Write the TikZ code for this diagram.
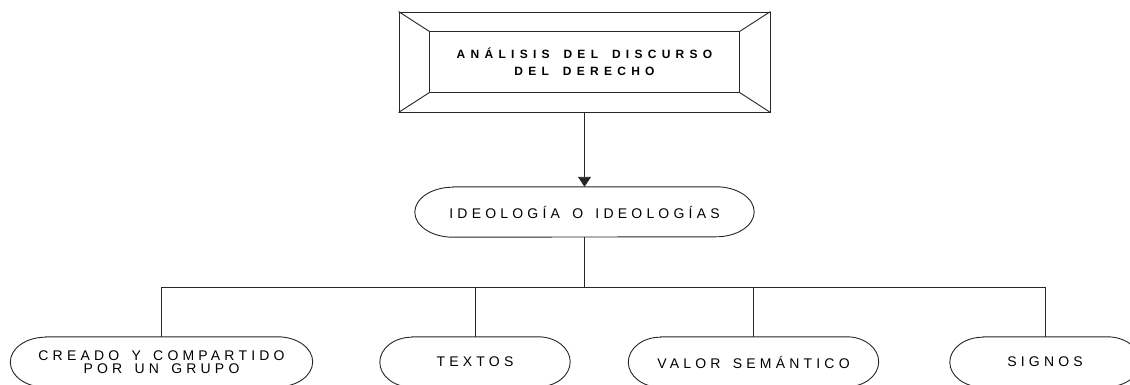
\documentclass[tikz,border=0pt]{standalone}
\usepackage{fontspec}
\setmainfont{Liberation Sans}
\newfontfamily\lsreg[LetterSpace=30]{Liberation Sans}
\newfontfamily\lsbold[LetterSpace=44]{Liberation Sans}
\usetikzlibrary{arrows.meta,calc}
\newcommand\wsr{\hspace{0.30em} }
\newcommand\wsb{\hspace{0.44em} }
\tikzset{
  line/.style={line width=0.9pt, draw=black!85},
  termnode/.style={minimum height=50pt, inner sep=0pt, align=center,
    font=\lsreg\fontsize{14}{13.5}\selectfont},
  titlenode/.style={minimum width=371pt, minimum height=100pt, inner sep=0pt,
    align=center, font=\lsbold\bfseries\fontsize{12}{17}\selectfont},
}
\newcommand\termshape[2]{%
  \draw[line] ([xshift=#2]#1.north west) -- ([xshift=-#2]#1.north east)
    arc[start angle=90,end angle=-90,x radius=#2,y radius=25pt]
    -- ([xshift=#2]#1.south west)
    arc[start angle=270,end angle=90,x radius=#2,y radius=25pt] -- cycle;}
\begin{document}
\begin{tikzpicture}[x=1pt,y=1pt]
\useasboundingbox (0,0) rectangle (1130,-385);
\clip (0,0) rectangle (1130,-385);
\fill[white] (0,0) rectangle (1130,-385);
% title box
\node[titlenode, line, draw] (title) at (584.5,-62) {ANÁLISIS\wsb DEL\wsb DISCURSO\\DEL\wsb DERECHO};
\coordinate (inw) at ($(title.north west)+(31,-20)$);
\coordinate (ine) at ($(title.north east)+(-31,-20)$);
\coordinate (isw) at ($(title.south west)+(31,20)$);
\coordinate (ise) at ($(title.south east)+(-31,20)$);
\draw[line] (inw) rectangle (ise);
\draw[line] (title.north west) -- (inw);
\draw[line] (title.north east) -- (ine);
\draw[line] (title.south west) -- (isw);
\draw[line] (title.south east) -- (ise);
% ideology
\node[termnode, minimum width=339pt] (ideo) at (584.5,-212) {IDEOLOGÍA\wsr O\wsr IDEOLOGÍAS};
\termshape{ideo}{38pt}
\draw[line, -{Triangle[length=10pt,width=13pt]}] (title.south) -- (ideo.north);
% children
\node[termnode, minimum width=302pt] (creado) at (161.5,-362) {CREADO\wsr Y\wsr COMPARTIDO\\POR\wsr UN\wsr GRUPO};
\node[termnode, minimum width=190pt] (textos) at (475,-362) {TEXTOS};
\node[termnode, minimum width=250pt] (valor) at (753.5,-362) {VALOR\wsr SEMÁNTICO};
\node[termnode, minimum width=190pt] (signos) at (1045,-362) {SIGNOS};
\termshape{creado}{35pt}
\termshape{textos}{32pt}
\termshape{valor}{32pt}
\termshape{signos}{33pt}
\coordinate (bus) at ($(ideo.south)+(0,-50)$);
\draw[line] (ideo.south) -- (bus);
\foreach \c in {creado,textos,valor,signos}
  \draw[line] (bus) -| (\c.north);
\end{tikzpicture}
\end{document}
